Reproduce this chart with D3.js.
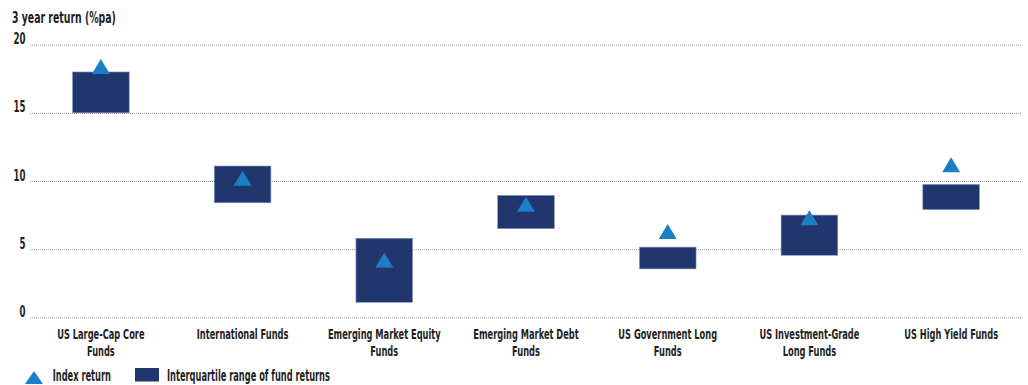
<!DOCTYPE html>
<html>
<head>
<meta charset="utf-8">
<script src="https://cdn.jsdelivr.net/npm/d3@7"></script>
<style>
  body { margin: 0; background: #fff; }
  text { font-family: "DejaVu Sans Condensed", "DejaVu Sans", sans-serif; font-weight: bold; fill: #1e1e1e; }
</style>
</head>
<body>
<svg id="chart" width="1028" height="385"></svg>
<script>
// categories, label lines are split with "\n"
var categories = [
    "US Large-Cap Core\nFunds",
    "International Funds",
    "Emerging Market Equity\nFunds",
    "Emerging Market Debt\nFunds",
    "US Government Long\nFunds",
    "US Investment-Grade\nLong Funds",
    "US High Yield Funds"
];
// interquartile range of fund returns (%pa)
var lowerQuartile = [15.0, 8.4, 1.1, 6.5, 3.55, 4.55, 7.9];
var upperQuartile = [18.0, 11.1, 5.8, 8.95, 5.15, 7.5, 9.75];
// index return (%pa)
var indexReturn = [18.4, 10.2, 4.2, 8.3, 6.3, 7.3, 11.2];
var yTicks = [0, 5, 10, 15, 20];

var boxColor = '#22366e';
var triColor = '#1a7fc4';

var svg = d3.select('#chart');
var margin = { top: 44.7, left: 30, bottom: 67.7, right: 6 };
var width = 1028;
var height = 385;

// the reference uses a narrow face, so squeeze the text horizontally:
// returns the x scale that makes `str` at `size` as wide as `target`
function condense(size, str, target) {
    var probe = svg.append('text').style('font-size', size + 'px').text(str);
    var w = probe.node().getComputedTextLength();
    probe.remove();
    return target / w;
}
var catSize = 13.7, legSize = 15, titleSize = 15, tickSize = 15.5;
var catSx = condense(catSize, 'International Funds', 91.7);
var legSx = condense(legSize, 'Interquartile range of fund returns', 163);
var titleSx = condense(titleSize, '3 year return (%pa)', 104);
var tickSx = condense(tickSize, '20', 12);

var x = d3.scaleBand()
    .domain(categories)
    .range([margin.left, width - margin.right])
    .paddingInner(0.6)
    .paddingOuter(0.3);

var y = d3.scaleLinear()
    .domain([0, 20])
    .range([height - margin.bottom, margin.top]);

// axis title
svg.append('text')
    .attr('transform', 'translate(12,23.3) scale(' + titleSx + ',1)')
    .style('font-size', titleSize + 'px')
    .text('3 year return (%pa)');

// dotted gridlines + tick labels
var yAxis = d3.axisLeft(y)
    .tickValues(yTicks)
    .tickSize(-(width - margin.right - margin.left))
    .tickPadding(0)
    .tickFormat(d3.format('d'));

var gy = svg.append('g')
    .attr('transform', 'translate(' + margin.left + ',0)')
    .call(yAxis);
gy.select('.domain').remove();
gy.selectAll('.tick line')
    .attr('stroke', '#9a9a9a')
    .attr('stroke-dasharray', '1,1');
gy.selectAll('.tick text')
    .style('font-size', tickSize + 'px')
    .attr('fill', '#1e1e1e')
    .attr('x', null)
    .attr('dy', null)
    .attr('transform', 'translate(-4.5,-1) scale(' + tickSx + ',1)');

// triangle path centred on the value
function triangle(w, h) {
    return 'M0,' + (-h / 2) + 'L' + (w / 2) + ',' + (h / 2) + 'L' + (-w / 2) + ',' + (h / 2) + 'Z';
}

// interquartile boxes
svg.selectAll('.box')
    .data(categories)
    .enter()
    .append('rect')
    .attr('class', 'box')
    .attr('x', function (d) { return x(d); })
    .attr('width', x.bandwidth())
    .attr('y', function (d, i) { return y(upperQuartile[i]); })
    .attr('height', function (d, i) { return y(lowerQuartile[i]) - y(upperQuartile[i]); })
    .attr('fill', boxColor)
    .attr('stroke', '#8d9cc4')
    .attr('stroke-width', 0.6);

// index return markers
svg.selectAll('.tri')
    .data(categories)
    .enter()
    .append('path')
    .attr('class', 'tri')
    .attr('d', triangle(18, 15))
    .attr('transform', function (d, i) {
        return 'translate(' + (x(d) + x.bandwidth() / 2) + ',' + y(indexReturn[i]) + ')';
    })
    .attr('fill', triColor);

// category labels
var labels = svg.selectAll('.cat')
    .data(categories)
    .enter()
    .append('text')
    .attr('class', 'cat')
    .attr('text-anchor', 'middle')
    .style('font-size', catSize + 'px')
    .attr('transform', function (d) {
        return 'translate(' + (x(d) + x.bandwidth() / 2) + ',339.3) scale(' + catSx + ',1)';
    });
labels.selectAll('tspan')
    .data(function (d) { return d.split('\n'); })
    .enter()
    .append('tspan')
    .attr('x', 0)
    .attr('dy', function (d, i) { return i === 0 ? 0 : 17; })
    .text(function (d) { return d; });

// legend
var legend = svg.append('g');
legend.append('path')
    .attr('d', triangle(18, 13))
    .attr('transform', 'translate(34,377.5)')
    .attr('fill', triColor);
legend.append('text')
    .attr('transform', 'translate(52.7,380.7) scale(' + legSx + ',1)')
    .style('font-size', legSize + 'px')
    .text('Index return');
legend.append('rect')
    .attr('x', 135)
    .attr('y', 368)
    .attr('width', 24)
    .attr('height', 13.5)
    .attr('fill', boxColor);
legend.append('text')
    .attr('transform', 'translate(167,380.7) scale(' + legSx + ',1)')
    .style('font-size', legSize + 'px')
    .text('Interquartile range of fund returns');
</script>
</body>
</html>
